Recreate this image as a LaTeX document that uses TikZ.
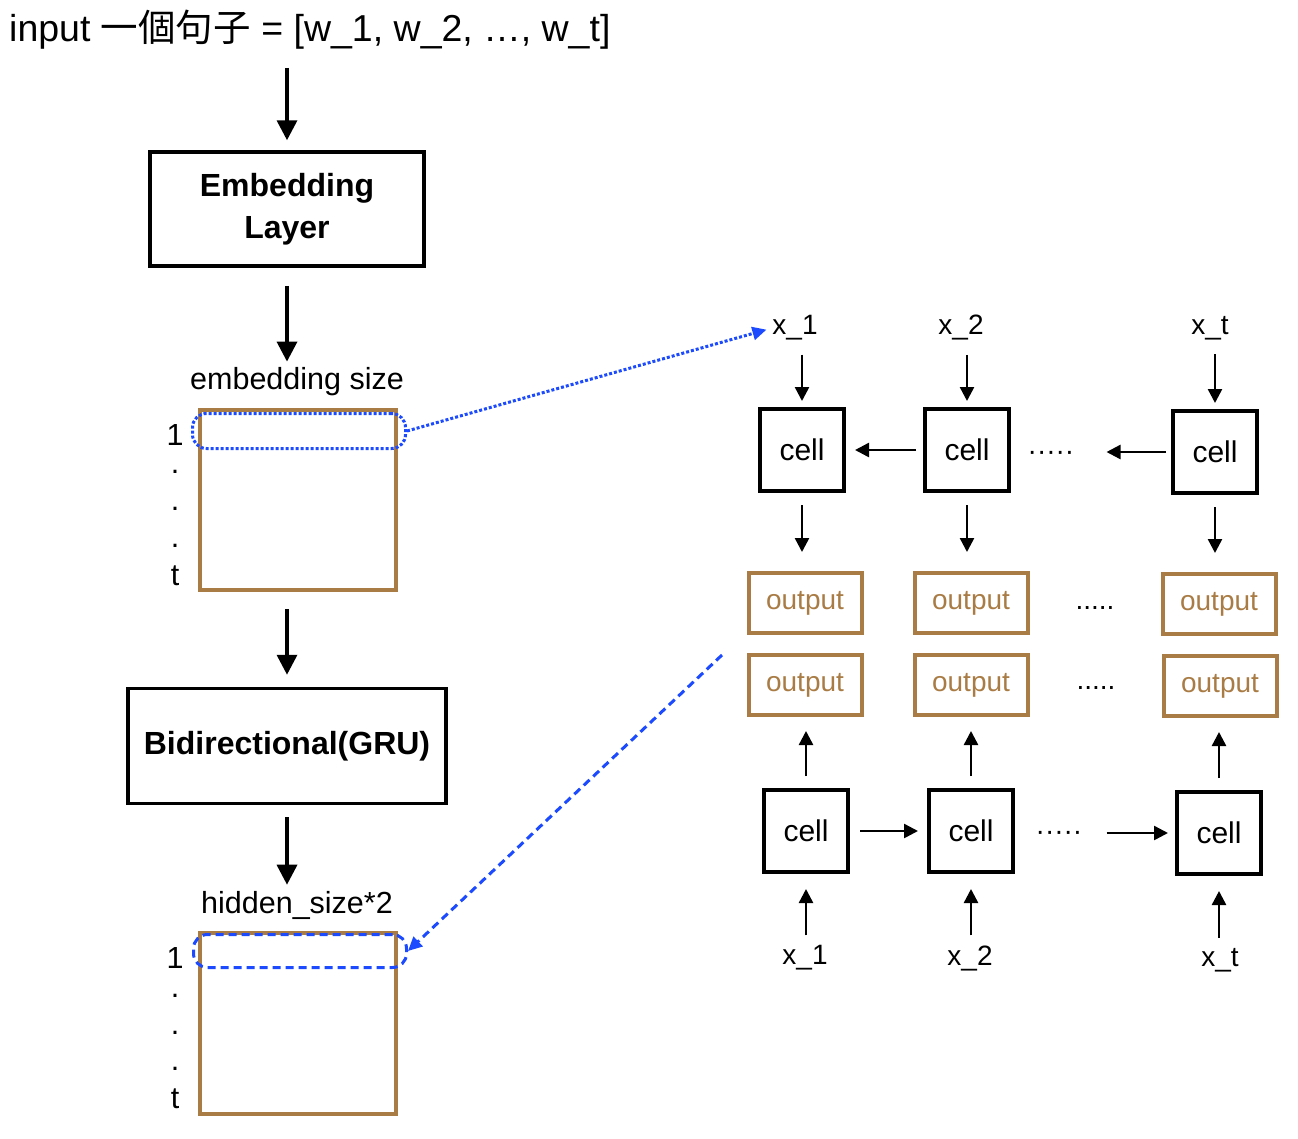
\documentclass[tikz,border=0pt]{standalone}
\usepackage{fontspec}
\setmainfont{Liberation Sans}
\newfontfamily\cjk{Noto Sans CJK TC}
\usetikzlibrary{arrows.meta}
\definecolor{brn}{RGB}{169,124,69}
\definecolor{blu}{RGB}{28,74,255}
\newcommand{\fs}[1]{\fontsize{#1}{#1}\selectfont}
\tikzset{
  bigbox/.style={draw=black, line width=3.5pt, align=center, font=\fs{32}\bfseries, inner sep=0pt},
  matbox/.style={draw=brn, line width=4pt, minimum width=196pt, minimum height=180pt, inner sep=0pt},
  cellbox/.style={draw=black, line width=4pt, minimum width=84pt, minimum height=82pt, font=\fs{30}, inner sep=0pt},
  outbox/.style={draw=brn, line width=4pt, minimum width=113pt, minimum height=60pt, font=\fs{28}, text=brn, inner sep=0pt},
  lbl/.style={font=\fs{30.5}, inner sep=0pt},
  dotl/.style={font=\fs{30.5}, inner sep=0pt, text height=4pt, text depth=0pt},
  xl/.style={font=\fs{28}, inner sep=0pt},
  bigarr/.style={line width=3.5pt, -{Triangle[width=20pt,length=20pt]}},
  arr/.style={line width=2.5pt, -{Triangle[width=14pt,length=14pt]}},
  hl/.style={draw=blu, line width=3pt, rounded corners=14pt, minimum width=213pt, inner sep=0pt},
}
\begin{document}
\begin{tikzpicture}[x=1pt,y=-1pt]
\useasboundingbox[fill=white] (0,0) rectangle (1298,1138);
% left column
\node[font=\fs{37.5}, anchor=west, inner sep=0pt] (title) at (9,30) {input {\cjk 一個句子} = [w\_1, w\_2, …, w\_t]};
\node[bigbox, minimum width=274pt, minimum height=114pt] (emb) at (287,209) {Embedding\\[10pt]Layer};
\node[lbl] (es) at (297,382) {embedding size};
\node[matbox] (m1) at (298,500) {};
\node[lbl] (r1a) at (175,435) {1};
\node[dotl] (r1b) at (175,471) {.};
\node[dotl] (r1c) at (175,508) {.};
\node[dotl] (r1d) at (175,545) {.};
\node[lbl] (r1e) at (175,576) {t};
\node[hl, dotted, minimum height=35pt] (h1) at (299,431) {};
\node[bigbox, minimum width=318pt, minimum height=115pt] (bi) at (287,746) {Bidirectional(GRU)};
\node[lbl] (hs) at (297,905) {hidden\_size*2};
\node[matbox, minimum height=181pt] (m2) at (298,1023) {};
\node[lbl] (r2a) at (175,958) {1};
\node[dotl] (r2b) at (175,995) {.};
\node[dotl] (r2c) at (175,1032) {.};
\node[dotl] (r2d) at (175,1068) {.};
\node[lbl] (r2e) at (175,1099) {t};
\node[hl, dashed, dash pattern=on 8pt off 5pt, minimum height=33pt] (h2) at (300,951) {};

\draw[bigarr] (title.south -| emb.north) ++(0,18) -- ([yshift=10pt]emb.north);
\draw[bigarr, shorten <=18pt, shorten >=6pt] (emb.south) -- (emb.south |- es.north);
\draw[bigarr, shorten <=17pt, shorten >=12pt] (m1.south -| emb.south) -- (bi.north);
\draw[bigarr, shorten <=12pt, shorten >=6pt] (bi.south) -- (bi.south |- hs.north);

% right: top row (backward)
\node[xl] (tx1) at (795,328) {x\_1};
\node[xl] (tx2) at (961,328) {x\_2};
\node[xl] (tx3) at (1210,328) {x\_t};
\node[cellbox] (tc1) at (802,450) {cell};
\node[cellbox] (tc2) at (967,450) {cell};
\node[cellbox] (tc3) at (1215,452) {cell};
\node[xl] (td) at (1051,456) {·····};
\node[outbox] (o11) at (805,603) {output};
\node[outbox] (o12) at (971,603) {output};
\node[outbox] (o13) at (1219,604) {output};
\node[xl] (od1) at (1095,608) {.....};
\node[outbox] (o21) at (805,685) {output};
\node[outbox] (o22) at (971,685) {output};
\node[outbox] (o23) at (1220,686) {output};
\node[xl] (od2) at (1096,688) {.....};
\node[cellbox] (bc1) at (806,831) {cell};
\node[cellbox] (bc2) at (971,831) {cell};
\node[cellbox] (bc3) at (1219,833) {cell};
\node[xl] (bd) at (1059,836) {·····};
\node[xl] (bx1) at (805,958) {x\_1};
\node[xl] (bx2) at (970,958) {x\_2};
\node[xl] (bx3) at (1220,960) {x\_t};

\foreach \a/\b in {tx1/tc1, tx2/tc2, tx3/tc3}
  \draw[arr, shorten <=14pt, shorten >=6pt] (\a.south -| \b.north) -- (\b.north);
\foreach \a/\b in {tc1/o11, tc2/o12, tc3/o13}
  \draw[arr, shorten <=12pt, shorten >=19pt] (\a.south) -- (\b.north -| \a.south);
\foreach \a/\b in {bc1/o21, bc2/o22, bc3/o23}
  \draw[arr, shorten <=12pt, shorten >=14pt] (\a.north) -- (\b.south -| \a.north);
\foreach \a/\b in {bx1/bc1, bx2/bc2, bx3/bc3}
  \draw[arr, shorten <=10pt, shorten >=15pt] (\a.north -| \b.south) -- (\b.south);
\draw[arr, shorten <=7pt, shorten >=9pt] (tc2.west) -- (tc1.east);
\draw[arr, shorten <=5pt, shorten >=32pt] (tc3.west) -- (td.east |- tc3.west);
\draw[arr, shorten <=10pt, shorten >=9pt] (bc1.east) -- (bc2.west);
\draw[arr, shorten <=24pt, shorten >=7pt] (bd.east |- bc3.west) -- (bc3.west);

% blue links
\draw[blu, line width=3pt, dotted, -{Triangle[width=13pt,length=14pt]}, shorten >=6pt] (h1.east) -- (tx1.west);
\coordinate (dstart) at (722,655);
\draw[blu, line width=3pt, dash pattern=on 8pt off 5pt, -{Triangle[width=13pt,length=14pt]}] (dstart) -- (h2.east);
\end{tikzpicture}
\end{document}
